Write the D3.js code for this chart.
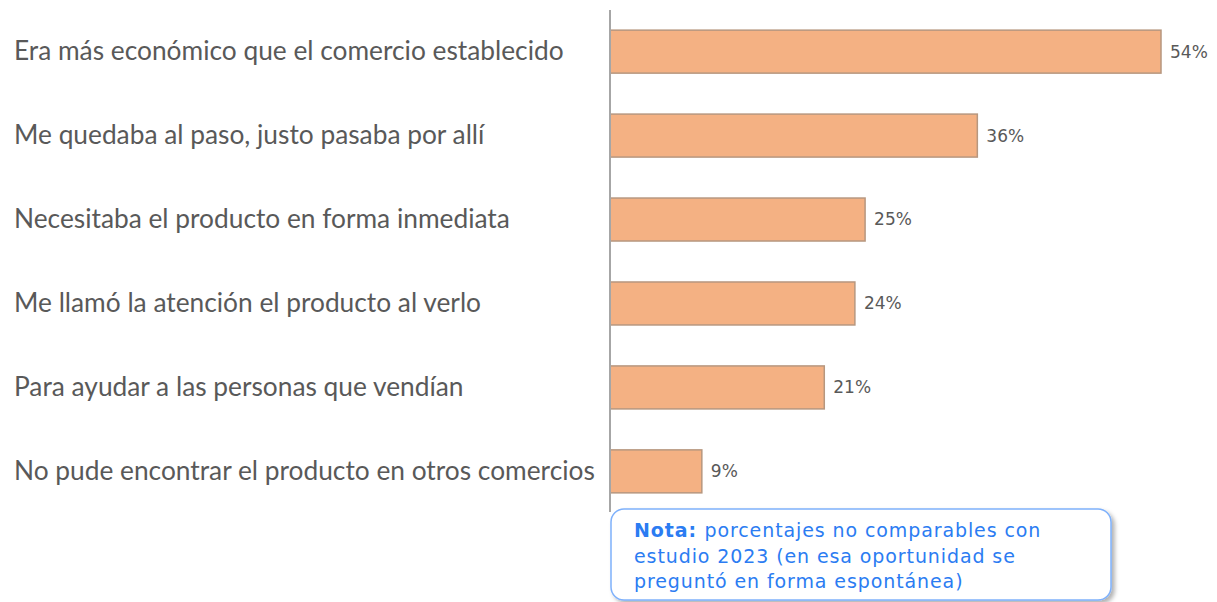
<!DOCTYPE html>
<html>
<head>
<meta charset="utf-8">
<script src="https://cdn.jsdelivr.net/npm/d3@7"></script>
<style>
  body { margin: 0; background: #fff; }
  svg { display: block; }
</style>
</head>
<body>
<div id="chart"></div>
<script>
// datos
var categories = [
  "Era más económico que el comercio establecido",
  "Me quedaba al paso, justo pasaba por allí",
  "Necesitaba el producto en forma inmediata",
  "Me llamó la atención el producto al verlo",
  "Para ayudar a las personas que vendían",
  "No pude encontrar el producto en otros comercios"
];
var values = [54, 36, 25, 24, 21, 9];
var noteLines = [
  ["Nota: ", "porcentajes no comparables con"],
  ["", "estudio 2023 (en esa oportunidad se"],
  ["", "preguntó en forma espontánea)"]
];

var svgWidth = 1217;
var svgHeight = 602;

var margin = { top: 10, right: 0, bottom: 89, left: 610 };

var svg = d3.select("#chart")
  .append("svg")
  .attr("width", svgWidth)
  .attr("height", svgHeight);

var defs = svg.append("defs");
var shadow = defs.append("filter").attr("id", "shadow")
  .attr("x", "-5%").attr("y", "-10%").attr("width", "115%").attr("height", "130%");
shadow.append("feDropShadow")
  .attr("dx", 3).attr("dy", 3).attr("stdDeviation", 2)
  .attr("flood-color", "#000").attr("flood-opacity", 0.3);

var xScale = d3.scaleLinear()
  .domain([0, 54])
  .range([margin.left, 1161]);

var yScale = d3.scaleBand()
  .domain(categories)
  .range([margin.top, svgHeight - margin.bottom])
  .paddingInner(0.488)
  .paddingOuter(0.24);

// barras
svg.selectAll("rect.bar")
  .data(values)
  .enter()
  .append("rect")
  .attr("class", "bar")
  .attr("x", xScale(0))
  .attr("y", (d, i) => yScale(categories[i]))
  .attr("width", d => xScale(d) - xScale(0))
  .attr("height", yScale.bandwidth())
  .attr("fill", "#f4b183")
  .attr("stroke", "#b7977f")
  .attr("stroke-width", 1.5);

// etiquetas de valores
svg.selectAll("text.val")
  .data(values)
  .enter()
  .append("text")
  .attr("class", "val")
  .attr("x", d => xScale(d) + 9)
  .attr("y", (d, i) => yScale(categories[i]) + yScale.bandwidth() / 2)
  .attr("dy", "0.35em")
  .attr("font-family", "'DejaVu Sans', sans-serif")
  .attr("font-size", 17)
  .attr("fill", "#595959")
  .text(d => d + "%");

// eje vertical con las categorías
var leftAxis = d3.axisLeft(yScale).tickSize(0).tickPadding(14);
var axisG = svg.append("g")
  .attr("transform", `translate(${margin.left}, 0)`)
  .call(leftAxis);
axisG.select(".domain").remove();
axisG.selectAll("text")
  .attr("font-family", "Lato, sans-serif")
  .attr("font-size", 26.3)
  .attr("fill", "#595959")
  .attr("text-anchor", "start")
  .attr("x", 14 - margin.left);

svg.append("line")
  .attr("x1", margin.left).attr("x2", margin.left)
  .attr("y1", 10).attr("y2", 512)
  .attr("stroke", "#a6a6a6")
  .attr("stroke-width", 2);

// nota
var note = svg.append("g");
note.append("rect")
  .attr("x", 611).attr("y", 509)
  .attr("width", 500).attr("height", 91)
  .attr("rx", 13)
  .attr("fill", "#fff")
  .attr("stroke", "#7fb1fb")
  .attr("stroke-width", 1.5)
  .attr("filter", "url(#shadow)");

var noteText = note.append("text")
  .attr("font-family", "'DejaVu Sans', sans-serif")
  .attr("font-size", 19)
  .attr("letter-spacing", 0.9)
  .attr("fill", "#2b7cf2");
noteLines.forEach(function(line, i) {
  var t = noteText.append("tspan")
    .attr("x", 634)
    .attr("y", 537 + i * 25.5);
  if (line[0]) {
    t.append("tspan").attr("font-weight", "bold").text(line[0]);
    noteText.append("tspan").text(line[1]);
  } else {
    t.text(line[1]);
  }
});
</script>
</body>
</html>
